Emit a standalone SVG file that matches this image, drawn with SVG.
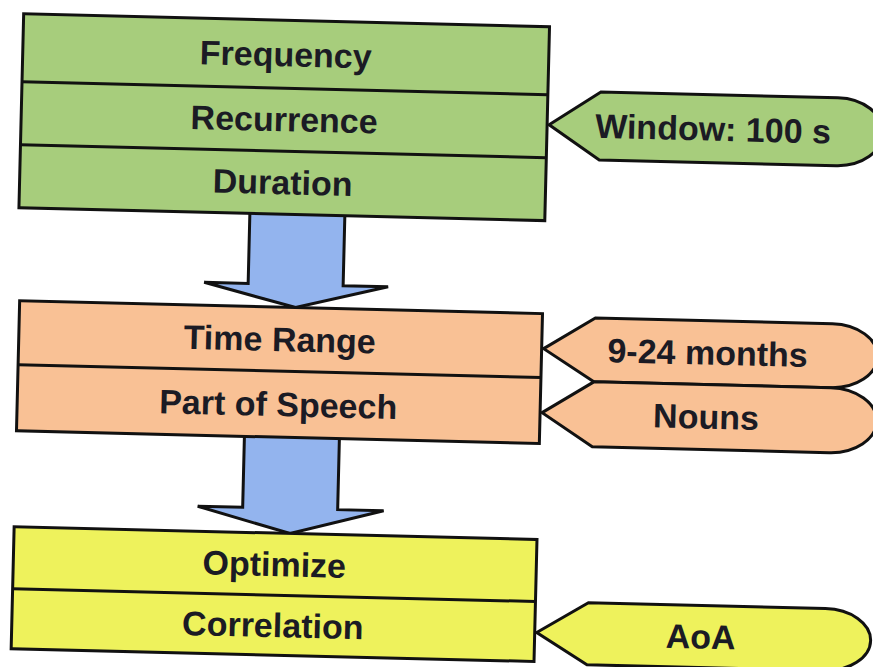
<svg xmlns="http://www.w3.org/2000/svg" width="873" height="667" viewBox="0 0 873 667">
  <style>
    .box { stroke: #111; stroke-width: 3; stroke-linejoin: miter; }
    .div { stroke: #111; stroke-width: 3; fill: none; }
    .green { fill: #A7CD7C; }
    .orange { fill: #F9C195; }
    .yellow { fill: #EEF25C; }
    .flow { fill: #93B4EE; stroke: #111; stroke-width: 3; stroke-linejoin: miter; }
    .lbl { font-family: "Liberation Sans", Arial, sans-serif; font-weight: bold; font-size: 34px; fill: #1b1b24; text-anchor: middle; }
  </style>
  <rect width="873" height="667" fill="#ffffff"/>
  <g transform="rotate(1.4 436 333)">
    <!-- block arrows between the stages -->
    <g id="connectors">
      <path class="flow" d="M247,218 V288 H203 L295,311 L387,288 H342 V218"/>
      <path class="flow" d="M247,441 V512 H202 L295,537 L388,512 H342 V441"/>
    </g>

    <!-- stage 1: measures -->
    <g id="measures">
      <rect class="box green" x="16" y="24" width="526" height="194"/>
      <line class="div" x1="16" y1="92" x2="542" y2="92"/>
      <line class="div" x1="16" y1="155" x2="542" y2="155"/>
      <text class="lbl" x="279" y="70">Frequency</text>
      <text class="lbl" x="279" y="135">Recurrence</text>
      <text class="lbl" x="279" y="198">Duration</text>
    </g>
    <g id="window-tag">
      <path class="box green" d="M544,122 L595,88 H832 A46,34 0 0 1 832,156 H595 Z"/>
      <text class="lbl" x="708" y="134">Window: 100 s</text>
    </g>

    <!-- stage 2: filters -->
    <g id="filters">
      <rect class="box orange" x="19" y="311" width="523" height="130"/>
      <line class="div" x1="19" y1="375" x2="542" y2="375"/>
      <text class="lbl" x="280" y="355">Time Range</text>
      <text class="lbl" x="280" y="420">Part of Speech</text>
    </g>
    <g id="range-tag">
      <path class="box orange" d="M544,346 L595,314 H832 A46,32 0 0 1 832,378 H595 Z"/>
      <text class="lbl" x="708" y="358">9-24 months</text>
    </g>
    <g id="pos-tag">
      <path class="box orange" d="M544,410 L595,378 H832 A46,32 0 0 1 832,443 H595 Z"/>
      <text class="lbl" x="708" y="422">Nouns</text>
    </g>

    <!-- stage 3: evaluation -->
    <g id="evaluation">
      <rect class="box yellow" x="19" y="537" width="523" height="122"/>
      <line class="div" x1="19" y1="599" x2="542" y2="599"/>
      <text class="lbl" x="280" y="580">Optimize</text>
      <text class="lbl" x="280" y="641">Correlation</text>
    </g>
    <g id="aoa-tag">
      <path class="box yellow" d="M544,630 L595,599 H832 A46,31 0 0 1 832,661 H595 Z"/>
      <text class="lbl" x="708" y="642">AoA</text>
    </g>
  </g>
</svg>
